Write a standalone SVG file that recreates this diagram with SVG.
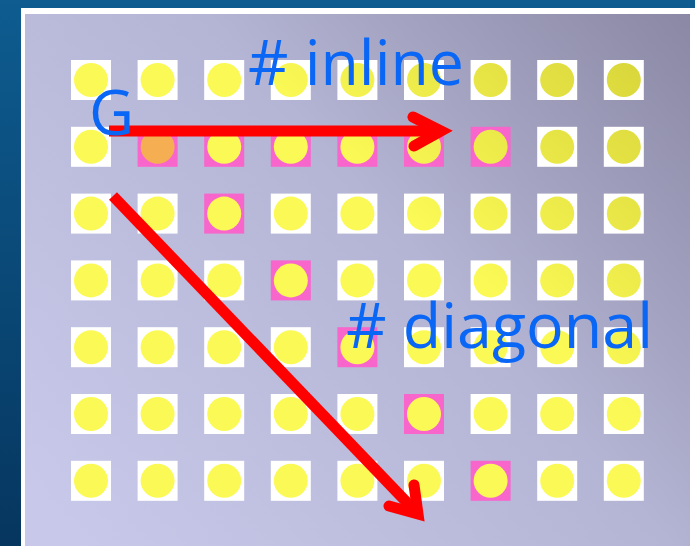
<svg xmlns="http://www.w3.org/2000/svg" width="695" height="546" viewBox="0 0 695 546">
<defs>
<linearGradient id="bg" x1="0" y1="0" x2="0" y2="1">
<stop offset="0" stop-color="#0e5c90"/>
<stop offset="1" stop-color="#06365f"/>
</linearGradient>
<linearGradient id="panel" gradientUnits="userSpaceOnUse" x1="80" y1="546" x2="690" y2="14">
<stop offset="0" stop-color="#c8c8ea"/>
<stop offset="0.55" stop-color="#b4b4d4"/>
<stop offset="1" stop-color="#8a88a4"/>
</linearGradient>
<linearGradient id="dot" gradientUnits="userSpaceOnUse" x1="640" y1="60" x2="460" y2="260">
<stop offset="0" stop-color="#d8d63a"/>
<stop offset="1" stop-color="#fbf955"/>
</linearGradient>
<style>
.sq{fill:#ffffff}
.pk{fill:#f866cc}
.c{fill:url(#dot)}
.or{fill:#f5ae52}
.t{font-family:"Open Sans",sans-serif;font-size:62px;fill:#0a66f5;font-weight:500}
.ar{stroke:#ff0000;stroke-width:11;fill:none}
</style>
</defs>
<rect x="0" y="0" width="695" height="546" fill="url(#bg)"/>
<rect x="21" y="8" width="674" height="538" fill="#ffffff"/>
<rect x="25" y="14" width="665" height="532" fill="url(#panel)"/>
<g id="grid">
<g id="r0c0"><rect class="sq" x="71" y="60" width="40" height="40"/><circle class="c" cx="91" cy="80" r="17"/></g>
<g id="r0c1"><rect class="sq" x="137.6" y="60" width="40" height="40"/><circle class="c" cx="157.6" cy="80" r="17"/></g>
<g id="r0c2"><rect class="sq" x="204.2" y="60" width="40" height="40"/><circle class="c" cx="224.2" cy="80" r="17"/></g>
<g id="r0c3"><rect class="sq" x="270.8" y="60" width="40" height="40"/><circle class="c" cx="290.8" cy="80" r="17"/></g>
<g id="r0c4"><rect class="sq" x="337.4" y="60" width="40" height="40"/><circle class="c" cx="357.4" cy="80" r="17"/></g>
<g id="r0c5"><rect class="sq" x="404" y="60" width="40" height="40"/><circle class="c" cx="424" cy="80" r="17"/></g>
<g id="r0c6"><rect class="sq" x="470.6" y="60" width="40" height="40"/><circle class="c" cx="490.6" cy="80" r="17"/></g>
<g id="r0c7"><rect class="sq" x="537.2" y="60" width="40" height="40"/><circle class="c" cx="557.2" cy="80" r="17"/></g>
<g id="r0c8"><rect class="sq" x="603.8" y="60" width="40" height="40"/><circle class="c" cx="623.8" cy="80" r="17"/></g>

<g id="r1c0"><rect class="sq" x="71" y="126.8" width="40" height="40"/><circle class="c" cx="91" cy="146.8" r="17"/></g>
<g id="r1c1"><rect class="pk" x="137.6" y="126.8" width="40" height="40"/><circle class="or" cx="157.6" cy="146.8" r="17"/></g>
<g id="r1c2"><rect class="pk" x="204.2" y="126.8" width="40" height="40"/><circle class="c" cx="224.2" cy="146.8" r="17"/></g>
<g id="r1c3"><rect class="pk" x="270.8" y="126.8" width="40" height="40"/><circle class="c" cx="290.8" cy="146.8" r="17"/></g>
<g id="r1c4"><rect class="pk" x="337.4" y="126.8" width="40" height="40"/><circle class="c" cx="357.4" cy="146.8" r="17"/></g>
<g id="r1c5"><rect class="pk" x="404" y="126.8" width="40" height="40"/><circle class="c" cx="424" cy="146.8" r="17"/></g>
<g id="r1c6"><rect class="pk" x="470.6" y="126.8" width="40" height="40"/><circle class="c" cx="490.6" cy="146.8" r="17"/></g>
<g id="r1c7"><rect class="sq" x="537.2" y="126.8" width="40" height="40"/><circle class="c" cx="557.2" cy="146.8" r="17"/></g>
<g id="r1c8"><rect class="sq" x="603.8" y="126.8" width="40" height="40"/><circle class="c" cx="623.8" cy="146.8" r="17"/></g>

<g id="r2c0"><rect class="sq" x="71" y="193.6" width="40" height="40"/><circle class="c" cx="91" cy="213.6" r="17"/></g>
<g id="r2c1"><rect class="sq" x="137.6" y="193.6" width="40" height="40"/><circle class="c" cx="157.6" cy="213.6" r="17"/></g>
<g id="r2c2"><rect class="pk" x="204.2" y="193.6" width="40" height="40"/><circle class="c" cx="224.2" cy="213.6" r="17"/></g>
<g id="r2c3"><rect class="sq" x="270.8" y="193.6" width="40" height="40"/><circle class="c" cx="290.8" cy="213.6" r="17"/></g>
<g id="r2c4"><rect class="sq" x="337.4" y="193.6" width="40" height="40"/><circle class="c" cx="357.4" cy="213.6" r="17"/></g>
<g id="r2c5"><rect class="sq" x="404" y="193.6" width="40" height="40"/><circle class="c" cx="424" cy="213.6" r="17"/></g>
<g id="r2c6"><rect class="sq" x="470.6" y="193.6" width="40" height="40"/><circle class="c" cx="490.6" cy="213.6" r="17"/></g>
<g id="r2c7"><rect class="sq" x="537.2" y="193.6" width="40" height="40"/><circle class="c" cx="557.2" cy="213.6" r="17"/></g>
<g id="r2c8"><rect class="sq" x="603.8" y="193.6" width="40" height="40"/><circle class="c" cx="623.8" cy="213.6" r="17"/></g>

<g id="r3c0"><rect class="sq" x="71" y="260.4" width="40" height="40"/><circle class="c" cx="91" cy="280.4" r="17"/></g>
<g id="r3c1"><rect class="sq" x="137.6" y="260.4" width="40" height="40"/><circle class="c" cx="157.6" cy="280.4" r="17"/></g>
<g id="r3c2"><rect class="sq" x="204.2" y="260.4" width="40" height="40"/><circle class="c" cx="224.2" cy="280.4" r="17"/></g>
<g id="r3c3"><rect class="pk" x="270.8" y="260.4" width="40" height="40"/><circle class="c" cx="290.8" cy="280.4" r="17"/></g>
<g id="r3c4"><rect class="sq" x="337.4" y="260.4" width="40" height="40"/><circle class="c" cx="357.4" cy="280.4" r="17"/></g>
<g id="r3c5"><rect class="sq" x="404" y="260.4" width="40" height="40"/><circle class="c" cx="424" cy="280.4" r="17"/></g>
<g id="r3c6"><rect class="sq" x="470.6" y="260.4" width="40" height="40"/><circle class="c" cx="490.6" cy="280.4" r="17"/></g>
<g id="r3c7"><rect class="sq" x="537.2" y="260.4" width="40" height="40"/><circle class="c" cx="557.2" cy="280.4" r="17"/></g>
<g id="r3c8"><rect class="sq" x="603.8" y="260.4" width="40" height="40"/><circle class="c" cx="623.8" cy="280.4" r="17"/></g>

<g id="r4c0"><rect class="sq" x="71" y="327.2" width="40" height="40"/><circle class="c" cx="91" cy="347.2" r="17"/></g>
<g id="r4c1"><rect class="sq" x="137.6" y="327.2" width="40" height="40"/><circle class="c" cx="157.6" cy="347.2" r="17"/></g>
<g id="r4c2"><rect class="sq" x="204.2" y="327.2" width="40" height="40"/><circle class="c" cx="224.2" cy="347.2" r="17"/></g>
<g id="r4c3"><rect class="sq" x="270.8" y="327.2" width="40" height="40"/><circle class="c" cx="290.8" cy="347.2" r="17"/></g>
<g id="r4c4"><rect class="pk" x="337.4" y="327.2" width="40" height="40"/><circle class="c" cx="357.4" cy="347.2" r="17"/></g>
<g id="r4c5"><rect class="sq" x="404" y="327.2" width="40" height="40"/><circle class="c" cx="424" cy="347.2" r="17"/></g>
<g id="r4c6"><rect class="sq" x="470.6" y="327.2" width="40" height="40"/><circle class="c" cx="490.6" cy="347.2" r="17"/></g>
<g id="r4c7"><rect class="sq" x="537.2" y="327.2" width="40" height="40"/><circle class="c" cx="557.2" cy="347.2" r="17"/></g>
<g id="r4c8"><rect class="sq" x="603.8" y="327.2" width="40" height="40"/><circle class="c" cx="623.8" cy="347.2" r="17"/></g>

<g id="r5c0"><rect class="sq" x="71" y="394" width="40" height="40"/><circle class="c" cx="91" cy="414" r="17"/></g>
<g id="r5c1"><rect class="sq" x="137.6" y="394" width="40" height="40"/><circle class="c" cx="157.6" cy="414" r="17"/></g>
<g id="r5c2"><rect class="sq" x="204.2" y="394" width="40" height="40"/><circle class="c" cx="224.2" cy="414" r="17"/></g>
<g id="r5c3"><rect class="sq" x="270.8" y="394" width="40" height="40"/><circle class="c" cx="290.8" cy="414" r="17"/></g>
<g id="r5c4"><rect class="sq" x="337.4" y="394" width="40" height="40"/><circle class="c" cx="357.4" cy="414" r="17"/></g>
<g id="r5c5"><rect class="pk" x="404" y="394" width="40" height="40"/><circle class="c" cx="424" cy="414" r="17"/></g>
<g id="r5c6"><rect class="sq" x="470.6" y="394" width="40" height="40"/><circle class="c" cx="490.6" cy="414" r="17"/></g>
<g id="r5c7"><rect class="sq" x="537.2" y="394" width="40" height="40"/><circle class="c" cx="557.2" cy="414" r="17"/></g>
<g id="r5c8"><rect class="sq" x="603.8" y="394" width="40" height="40"/><circle class="c" cx="623.8" cy="414" r="17"/></g>

<g id="r6c0"><rect class="sq" x="71" y="460.8" width="40" height="40"/><circle class="c" cx="91" cy="480.8" r="17"/></g>
<g id="r6c1"><rect class="sq" x="137.6" y="460.8" width="40" height="40"/><circle class="c" cx="157.6" cy="480.8" r="17"/></g>
<g id="r6c2"><rect class="sq" x="204.2" y="460.8" width="40" height="40"/><circle class="c" cx="224.2" cy="480.8" r="17"/></g>
<g id="r6c3"><rect class="sq" x="270.8" y="460.8" width="40" height="40"/><circle class="c" cx="290.8" cy="480.8" r="17"/></g>
<g id="r6c4"><rect class="sq" x="337.4" y="460.8" width="40" height="40"/><circle class="c" cx="357.4" cy="480.8" r="17"/></g>
<g id="r6c5"><rect class="sq" x="404" y="460.8" width="40" height="40"/><circle class="c" cx="424" cy="480.8" r="17"/></g>
<g id="r6c6"><rect class="pk" x="470.6" y="460.8" width="40" height="40"/><circle class="c" cx="490.6" cy="480.8" r="17"/></g>
<g id="r6c7"><rect class="sq" x="537.2" y="460.8" width="40" height="40"/><circle class="c" cx="557.2" cy="480.8" r="17"/></g>
<g id="r6c8"><rect class="sq" x="603.8" y="460.8" width="40" height="40"/><circle class="c" cx="623.8" cy="480.8" r="17"/></g>
</g>
<g id="connectors">
<path class="ar" d="M109,131 L441,131"/>
<path class="ar" d="M413,117 L441,131 L414,146" stroke-linecap="round" stroke-linejoin="miter"/>
<path class="ar" d="M113,196 L418,514"/>
<path class="ar" d="M414,485 L418,514 L389,506" stroke-linecap="round" stroke-linejoin="miter"/>
</g>
<g id="labels">
<text class="t" x="248" y="85" textLength="216" lengthAdjust="spacingAndGlyphs"># inline</text>
<text class="t" x="89" y="135" font-size="66">G</text>
<text class="t" x="346" y="348" textLength="307" lengthAdjust="spacingAndGlyphs"># diagonal</text>
</g>
</svg>
